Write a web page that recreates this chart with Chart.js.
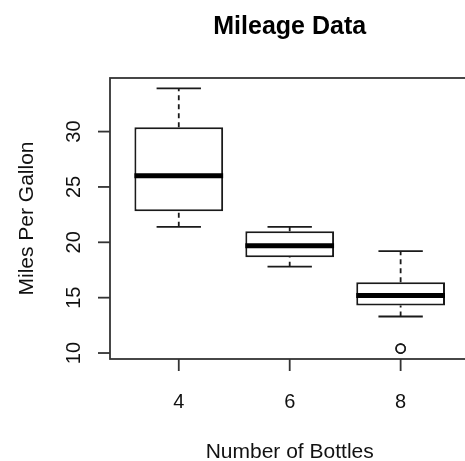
<!DOCTYPE html>
<html>
<head>
<meta charset="utf-8">
<script src="https://cdn.jsdelivr.net/npm/chart.js@4"></script>
<style>
  html, body { margin: 0; padding: 0; background: #fff; overflow: hidden; }
</style>
</head>
<body>
<canvas id="c" width="480" height="461"></canvas>
<script>
// mpg by cylinders (boxplot stats)
const categories = ['4', '6', '8'];
const whiskerLow = [21.4, 17.8, 13.3];
const lowerHinge = [22.8, 18.65, 14.3];
const medians = [26.0, 19.7, 15.2];
const upperHinge = [30.4, 21.0, 16.4];
const whiskerHigh = [33.9, 21.4, 19.2];
const outliers = [[], [], [10.4, 10.4]];
const yTicks = [10, 15, 20, 25, 30];

const BOX_W = 0.8;
const CAP_W = 0.4;
const INK = '#1a1a1a';
const FONT = '"Liberation Sans", Arial, sans-serif';

// segments separated by a null point so the line breaks
function segs(list) {
    const pts = [];
    list.forEach(s => {
        pts.push({x: s[0], y: s[1]}, {x: s[2], y: s[3]}, {x: s[0], y: null});
    });
    return pts;
}

const medianPts = segs(categories.map((c, i) =>
    [i + 1 - BOX_W / 2, medians[i], i + 1 + BOX_W / 2, medians[i]]));

const whiskerPts = segs(categories.flatMap((c, i) => [
    [i + 1, upperHinge[i], i + 1, whiskerHigh[i]],
    [i + 1, whiskerLow[i], i + 1, lowerHinge[i]]
]));

const capPts = segs(categories.flatMap((c, i) => [
    [i + 1 - CAP_W / 2, whiskerHigh[i], i + 1 + CAP_W / 2, whiskerHigh[i]],
    [i + 1 - CAP_W / 2, whiskerLow[i], i + 1 + CAP_W / 2, whiskerLow[i]]
]));

const outlierPts = categories.flatMap((c, i) => outliers[i].map(v => ({x: i + 1, y: v})));

// frame, ticks, labels and titles, R style
const rAxes = {
    id: 'rAxes',
    afterDraw(chart) {
        const ctx = chart.ctx;
        const a = chart.chartArea;
        const xs = chart.scales.x, ys = chart.scales.y;
        ctx.save();
        ctx.strokeStyle = '#333';
        ctx.lineWidth = 1.8;
        ctx.strokeRect(a.left, a.top, a.right - a.left, a.bottom - a.top);

        ctx.fillStyle = '#111';
        ctx.font = '20px ' + FONT;
        // y ticks
        yTicks.forEach(v => {
            const y = ys.getPixelForValue(v);
            ctx.beginPath();
            ctx.moveTo(a.left - 12, y);
            ctx.lineTo(a.left, y);
            ctx.stroke();
            ctx.save();
            ctx.translate(a.left - 30, y);
            ctx.rotate(-Math.PI / 2);
            ctx.textAlign = 'center';
            ctx.textBaseline = 'alphabetic';
            ctx.fillText(String(v), 0, 0);
            ctx.restore();
        });
        // x ticks
        categories.forEach((c, i) => {
            const x = xs.getPixelForValue(i + 1);
            ctx.beginPath();
            ctx.moveTo(x, a.bottom);
            ctx.lineTo(x, a.bottom + 12);
            ctx.stroke();
            ctx.textAlign = 'center';
            ctx.textBaseline = 'alphabetic';
            ctx.fillText(c, x, a.bottom + 49);
        });

        const cx = (a.left + a.right) / 2;
        const cy = (a.top + a.bottom) / 2;
        ctx.font = '21px ' + FONT;
        ctx.fillText('Number of Bottles', cx, a.bottom + 99);
        ctx.save();
        ctx.translate(33, cy);
        ctx.rotate(-Math.PI / 2);
        ctx.fillText('Miles Per Gallon', 0, 0);
        ctx.restore();

        ctx.font = 'bold 25px ' + FONT;
        ctx.fillStyle = '#000';
        ctx.fillText('Mileage Data', cx, 34);
        ctx.restore();
    }
};

new Chart(document.getElementById('c'), {
    type: 'bar',
    data: {
        datasets: [
            {
                type: 'bar',
                data: categories.map((c, i) => ({x: i + 1, y: [lowerHinge[i], upperHinge[i]]})),
                backgroundColor: '#fff',
                borderColor: INK,
                borderWidth: 2,
                borderSkipped: false,
                categoryPercentage: 1,
                barPercentage: BOX_W,
                order: 3
            },
            {
                type: 'line',
                data: whiskerPts,
                borderColor: INK,
                borderWidth: 1.8,
                borderDash: [5, 4],
                pointRadius: 0,
                spanGaps: false,
                order: 2
            },
            {
                type: 'line',
                data: capPts,
                borderColor: INK,
                borderWidth: 1.8,
                pointRadius: 0,
                spanGaps: false,
                order: 1
            },
            {
                type: 'line',
                data: medianPts,
                borderColor: '#000',
                borderWidth: 5,
                borderCapStyle: 'butt',
                pointRadius: 0,
                spanGaps: false,
                order: 0
            },
            {
                type: 'scatter',
                data: outlierPts,
                pointRadius: 4.5,
                pointBackgroundColor: '#fff',
                pointBorderColor: INK,
                pointBorderWidth: 1.6,
                order: 0
            }
        ]
    },
    options: {
        responsive: false,
        animation: false,
        events: [],
        layout: {
            padding: {left: 110, right: 10.6, top: 78, bottom: 102}
        },
        plugins: {
            legend: {display: false},
            tooltip: {enabled: false},
            title: {display: false}
        },
        scales: {
            x: {
                type: 'linear',
                display: false,
                offset: false,
                min: 0.38,
                max: 3.62,
                afterBuildTicks: (scale) => {
                    scale.ticks = categories.map((c, i) => ({value: i + 1}));
                }
            },
            y: {
                type: 'linear',
                display: false,
                min: 9.46,
                max: 34.84
            }
        }
    },
    plugins: [rAxes]
});
</script>
</body>
</html>
